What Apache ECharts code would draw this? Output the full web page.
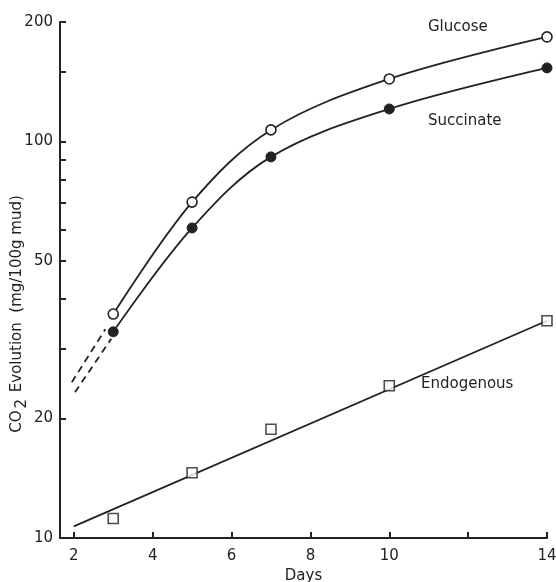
<!DOCTYPE html>
<html>
<head>
<meta charset="utf-8">
<script src="https://cdn.jsdelivr.net/npm/echarts@6/dist/echarts.min.js"></script>
<style>html,body{margin:0;padding:0;background:#fff}#c{width:556px;height:582px}</style>
</head>
<body>
<div id="c"></div>
<script>
const days = [3, 5, 7, 10, 14];
const glucose = [36.7, 70.3, 106.9, 143.7, 183.4];
const succinate = [33.1, 60.5, 91.4, 120.7, 153.2];
const endogenous = [11.2, 14.6, 18.8, 24.2, 35.3];
const glucoseExtrap = [[1.95, 24.7], [2.8, 33.6]];
const succinateExtrap = [[2.03, 23.3], [2.95, 31.8]];
const endogenousFit = [[2, 10.7], [14, 35.3]];
const xTicks = [2, 4, 6, 8, 10, 12, 14];
const xLabels = [2, 4, 6, 8, 10, 14];
const yTicks = [10, 20, 30, 40, 50, 60, 70, 80, 90, 100, 150, 200];
const yLabels = [10, 20, 50, 100, 200];

const FONT = 'DejaVu Sans';
const INK = '#222';
const pair = (xs, ys) => xs.map((x, i) => [x, ys[i]]);

const chart = echarts.init(document.getElementById('c'));
chart.setOption({
  animation: false,
  backgroundColor: '#fff',
  grid: { left: 60, right: 9, top: 22, bottom: 44, outerBoundsMode: 'none', containLabel: false },
  xAxis: {
    type: 'value', min: 1.65, max: 14,
    name: 'Days', nameLocation: 'middle', nameGap: 29,
    nameTextStyle: { fontFamily: FONT, fontSize: 15, color: INK },
    axisLine: { lineStyle: { color: INK, width: 2 } },
    axisTick: { inside: true, length: 6, customValues: xTicks, lineStyle: { color: INK, width: 2 } },
    axisLabel: { customValues: xLabels, fontFamily: FONT, fontSize: 15, color: INK, margin: 11 },
    splitLine: { show: false }
  },
  yAxis: {
    type: 'log', logBase: 10, min: 10, max: 200,
    axisLine: { show: true, lineStyle: { color: INK, width: 2 } },
    axisTick: { show: true, inside: true, length: 6, customValues: yTicks, lineStyle: { color: INK, width: 2 } },
    axisLabel: { customValues: yLabels, fontFamily: FONT, fontSize: 15, color: INK, margin: 7 },
    splitLine: { show: false }
  },
  graphic: [
    { type: 'text', left: 428, top: 20, style: { text: 'Glucose', font: '15px "DejaVu Sans"', fill: INK } },
    { type: 'text', left: 428, top: 114, style: { text: 'Succinate', font: '15px "DejaVu Sans"', fill: INK } },
    { type: 'text', left: 421, top: 377, style: { text: 'Endogenous', font: '15px "DejaVu Sans"', fill: INK } },
    { type: 'text', x: 17, y: 314, rotation: Math.PI / 2,
      style: { text: 'CO{s|2} Evolution  (mg/100g mud)', fill: INK, align: 'center', verticalAlign: 'middle',
        font: '15px "DejaVu Sans"',
        rich: { s: { fontSize: 15, fontFamily: FONT, padding: [10, 2, 0, 2], fill: INK } } } }
  ],
  series: [
    { type: 'line', data: pair(days, glucose), smooth: 0.35, symbol: 'circle', symbolSize: 10,
      lineStyle: { color: INK, width: 1.8 }, itemStyle: { color: '#fff', borderColor: INK, borderWidth: 1.6 }, z: 3 },
    { type: 'line', data: pair(days, succinate), smooth: 0.35, symbol: 'circle', symbolSize: 10,
      lineStyle: { color: INK, width: 1.8 }, itemStyle: { color: INK, borderColor: INK, borderWidth: 1 }, z: 3 },
    { type: 'line', data: glucoseExtrap, symbol: 'none', lineStyle: { color: INK, width: 1.8, type: [7, 5] } },
    { type: 'line', data: succinateExtrap, symbol: 'none', lineStyle: { color: INK, width: 1.8, type: [7, 5] } },
    { type: 'line', data: endogenousFit, symbol: 'none', lineStyle: { color: INK, width: 1.8 } },
    { type: 'scatter', data: pair(days, endogenous), symbol: 'rect', symbolSize: 10,
      itemStyle: { color: '#fff', borderColor: INK, borderWidth: 1.6 }, z: 4 }
  ]
});
</script>
</body>
</html>
